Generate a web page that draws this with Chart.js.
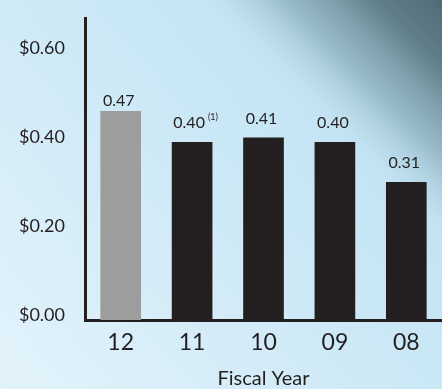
<!DOCTYPE html>
<html>
<head>
<meta charset="utf-8">
<script src="https://cdn.jsdelivr.net/npm/chart.js@4.4.1/dist/chart.umd.min.js"></script>
<style>
    html, body { margin: 0; padding: 0; background: #d4edf8; }
    canvas { display: block; }
</style>
</head>
<body>
<canvas id="chart-dividends" width="442" height="389"></canvas>
<script>
    /* ================== DADOS ================== */
    const fiscalYears = ['12', '11', '10', '09', '08'];
    const dividends = [0.47, 0.40, 0.41, 0.40, 0.31];
    const valueLabels = ['0.47', '0.40', '0.41', '0.40', '0.31'];
    const footnotes = ['', '(1)', '', '', ''];
    const yTickValues = [0, 0.2, 0.4, 0.6];

    const ink = '#231f20';
    const fontFamily = "Lato, 'Open Sans', sans-serif";

    /* ================== FUNDO (gradiente azul) ================== */
    const backdrop = {
        id: 'backdrop',
        beforeDraw(chart) {
            const { ctx, width, height } = chart;
            ctx.save();
            const base = ctx.createLinearGradient(0, height, width, 0);
            base.addColorStop(0, '#e3f3fb');
            base.addColorStop(0.55, '#cbe8f6');
            base.addColorStop(1, '#b9def0');
            ctx.fillStyle = base;
            ctx.fillRect(0, 0, width, height);

            // faixa escura diagonal no canto superior direito
            const dark = ctx.createLinearGradient(300, 150, 450, 0);
            dark.addColorStop(0, 'rgba(185,222,240,0)');
            dark.addColorStop(0.18, 'rgba(170,205,220,0)');
            dark.addColorStop(0.45, 'rgba(125,160,173,0.6)');
            dark.addColorStop(0.75, 'rgba(92,122,132,0.95)');
            dark.addColorStop(1, 'rgba(78,104,113,1)');
            ctx.fillStyle = dark;
            ctx.fillRect(0, 0, width, height);
            ctx.restore();
        }
    };

    /* ================== RÓTULOS DAS BARRAS ================== */
    const barLabels = {
        id: 'barLabels',
        afterDatasetsDraw(chart) {
            const ctx = chart.ctx;
            const meta = chart.getDatasetMeta(0);
            ctx.save();
            ctx.fillStyle = ink;
            ctx.textBaseline = 'alphabetic';
            meta.data.forEach((bar, i) => {
                const gap = i === 0 ? 5 : 14;
                const y = bar.y - gap;
                ctx.font = '16px ' + fontFamily;
                ctx.textAlign = 'center';
                const shift = footnotes[i] ? -3 : -2;
                ctx.fillText(valueLabels[i], bar.x + shift, y);
                if (footnotes[i]) {
                    const w = ctx.measureText(valueLabels[i]).width;
                    ctx.font = '9px ' + fontFamily;
                    ctx.textAlign = 'left';
                    ctx.fillText(footnotes[i], bar.x + shift + w / 2 + 3, y - 8);
                }
            });
            ctx.restore();
        }
    };

    /* ================== GRÁFICO ================== */
    new Chart(document.getElementById('chart-dividends'), {
        type: 'bar',
        data: {
            labels: fiscalYears,
            datasets: [{
                data: dividends,
                backgroundColor: ['#9d9d9d', ink, ink, ink, ink],
                borderWidth: 0,
                barThickness: 40
            }]
        },
        options: {
            responsive: false,
            animation: false,
            layout: { padding: { top: 18, left: 0, right: 0, bottom: 0 } },
            plugins: {
                legend: { display: false },
                tooltip: { enabled: false }
            },
            scales: {
                x: {
                    afterFit: s => { s.height = 69; s.paddingLeft = 0; s.paddingRight = 0; },
                    grid: { display: false, drawTicks: false },
                    border: { display: true, color: ink, width: 3 },
                    ticks: {
                        color: ink,
                        padding: 9,
                        font: { family: fontFamily, size: 23 }
                    },
                    title: {
                        display: true,
                        text: 'Fiscal Year',
                        color: ink,
                        font: { family: fontFamily, size: 20, lineHeight: 1 },
                        padding: { top: 0, bottom: 0 }
                    }
                },
                y: {
                    min: 0,
                    max: 0.68,
                    afterFit: s => { s.width = 85; s.paddingTop = 0; s.paddingBottom = 0; },
                    afterBuildTicks: s => { s.ticks = yTickValues.map(v => ({ value: v })); },
                    grid: { display: false, drawTicks: false },
                    border: { display: true, color: ink, width: 3 },
                    ticks: {
                        color: ink,
                        padding: 20,
                        labelOffset: -5,
                        font: { family: fontFamily, size: 18 },
                        callback: v => '$' + Number(v).toFixed(2)
                    }
                }
            }
        },
        plugins: [backdrop, barLabels]
    });
</script>
</body>
</html>
